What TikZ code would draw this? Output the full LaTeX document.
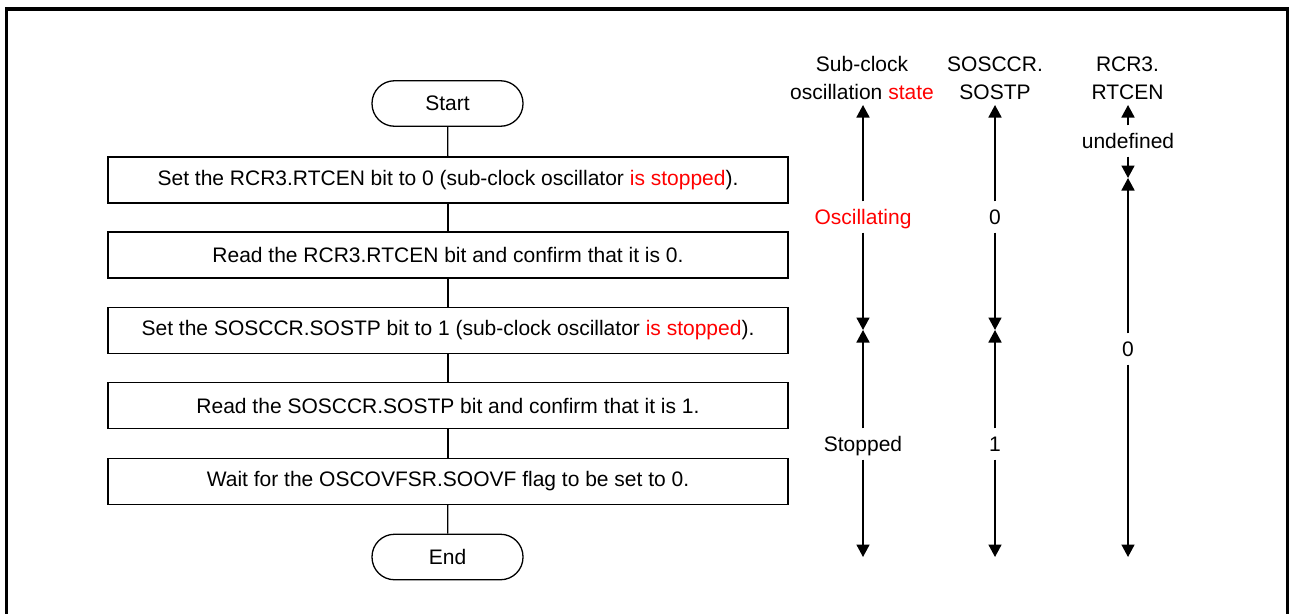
\documentclass[tikz,border=0pt]{standalone}
\usepackage{fontspec}
\setmainfont{Liberation Sans}
\usetikzlibrary{arrows.meta}
\definecolor{hlred}{RGB}{255,0,0}
\begin{document}
\begin{tikzpicture}[x=1pt,y=-1pt,
  every node/.style={font=\fontsize{21}{28}\selectfont},
  proc/.style={draw,line width=1.3pt,minimum width=680,minimum height=46,inner sep=0},
  term/.style={draw,line width=1.3pt,rounded corners=22.5,minimum width=151,minimum height=45.5,inner sep=0},
  link/.style={line width=1.3pt},
  head/.style={align=center,inner sep=0},
  val/.style={inner sep=0,text height=15,text depth=0,minimum height=31},
  arr/.style={line width=1.7pt,-{Triangle[length=12.5pt,width=13pt]}}
]
\useasboundingbox (0,0) rectangle (1289,613);
\draw[line width=3.3pt] (6.7,620) -- (6.7,9) -- (1288,9) -- (1288,620);

% flowchart
\node[term] (start) at (447.5,103.5) {Start};
\node[proc] (b1) at (448,180) {Set the RCR3.RTCEN bit to 0 (sub-clock oscillator \textcolor{hlred}{is stopped}).};
\node[proc] (b2) at (448,255) {Read the RCR3.RTCEN bit and confirm that it is 0.};
\node[proc] (b3) at (448,330.3) {Set the SOSCCR.SOSTP bit to 1 (sub-clock oscillator \textcolor{hlred}{is stopped}).};
\node[proc] (b4) at (448,405.8) {Read the SOSCCR.SOSTP bit and confirm that it is 1.};
\node[proc] (b5) at (448,481.2) {Wait for the OSCOVFSR.SOOVF flag to be set to 0.};
\node[term] (end) at (447.5,557) {End};
\draw[link] (start) -- (b1);
\draw[link] (b1) -- (b2);
\draw[link] (b2) -- (b3);
\draw[link] (b3) -- (b4);
\draw[link] (b4) -- (b5);
\draw[link] (b5) -- (end);

% headers
\node[head] (h1) at (862,78) {Sub-clock\\oscillation \textcolor{hlred}{state}};
\node[head] (h2) at (995,78) {SOSCCR.\\SOSTP};
\node[head] (h3) at (1127.5,78) {RCR3.\\RTCEN};

% column 1
\coordinate (c1t) at (863,105);
\coordinate (c1m) at (863,330);
\coordinate (c1b) at (863,557);
\node[val,text=hlred] (osc) at (863,217) {Oscillating};
\node[val] (stp) at (863,444) {Stopped};
\draw[arr] (osc) -- (c1t);
\draw[arr] (osc) -- (c1m);
\draw[arr] (stp) -- (c1m);
\draw[arr] (stp) -- (c1b);

% column 2
\coordinate (c2t) at (995,105);
\coordinate (c2m) at (995,330);
\coordinate (c2b) at (995,557);
\node[val] (s0) at (995,217) {0};
\node[val] (s1) at (995,444) {1};
\draw[arr] (s0) -- (c2t);
\draw[arr] (s0) -- (c2m);
\draw[arr] (s1) -- (c2m);
\draw[arr] (s1) -- (c2b);

% column 3
\coordinate (c3t) at (1128,105);
\coordinate (c3m) at (1128,178);
\coordinate (c3b) at (1128,557);
\node[val] (und) at (1128,141) {undefined};
\node[val] (r0) at (1128,349) {0};
\draw[arr] (und) -- (c3t);
\draw[arr] (und) -- (c3m);
\draw[arr] (r0) -- (c3m);
\draw[arr] (r0) -- (c3b);
\end{tikzpicture}
\end{document}
